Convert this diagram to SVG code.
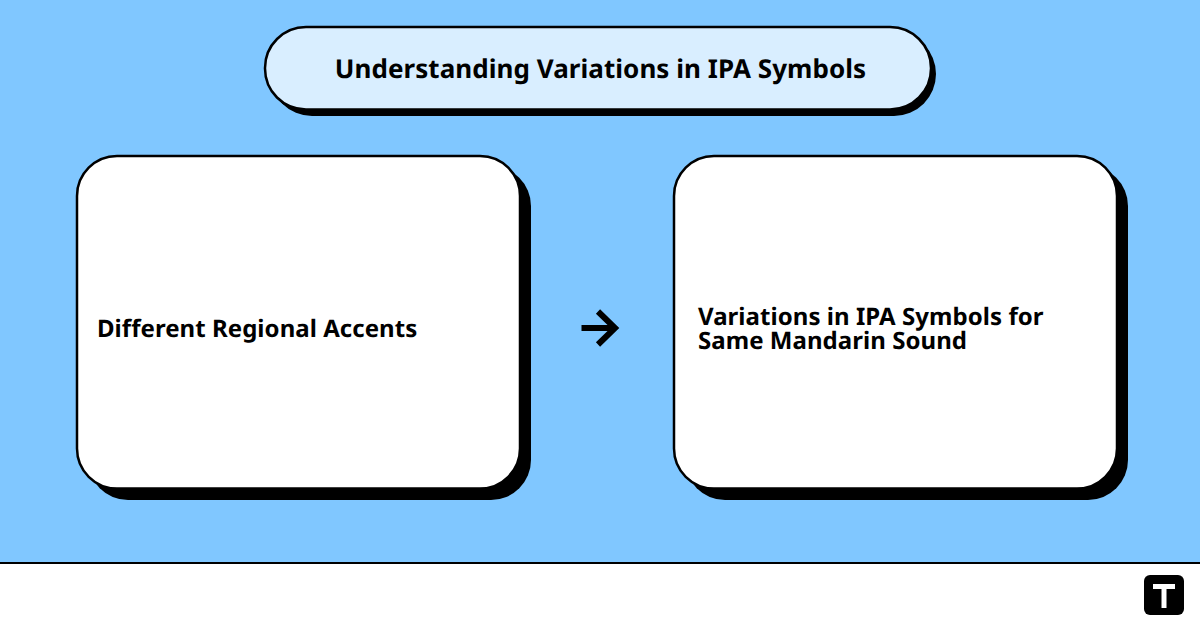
<svg xmlns="http://www.w3.org/2000/svg" width="1200" height="630" viewBox="0 0 1200 630">
<style>
.ol{stroke:#000;stroke-width:2.500}
.sh{fill:#000}
.t{font-family:"Noto Sans",sans-serif;font-weight:700;fill:#000;text-rendering:geometricPrecision;letter-spacing:.05px}
</style>
<rect width="1200" height="630" fill="#80c7ff"/>
<rect y="563" width="1200" height="67" fill="#fff"/>
<rect y="562" width="1200" height="2" fill="#000"/>
<g id="title">
<rect class="sh" x="270" y="32" width="666" height="84" rx="42"/>
<rect class="ol" x="265" y="27" width="666" height="82.500" rx="41" fill="#d9eeff"/>
<text class="t" x="600.500" y="78" font-size="26" text-anchor="middle">Understanding Variations in IPA Symbols</text>
</g>
<g id="node-left">
<rect class="sh" x="88" y="166" width="443" height="334" rx="40"/>
<rect class="ol" x="77" y="156" width="443" height="332.500" rx="40" fill="#fff"/>
<text class="t" x="97" y="337" font-size="24">Different Regional Accents</text>
</g>
<g id="node-right">
<rect class="sh" x="685" y="166" width="443" height="334" rx="40"/>
<rect class="ol" x="674" y="156" width="443" height="332.500" rx="40" fill="#fff"/>
<text class="t" font-size="24"><tspan x="698" y="325">Variations in IPA Symbols for</tspan><tspan x="698" y="349">Same Mandarin Sound</tspan></text>
</g>
<g id="connectors">
<path d="M581.500 328H615M598 311.500L615 328L598 344.500" fill="none" stroke="#000" stroke-width="6"/>
</g>
<g id="logo">
<rect x="1144" y="575" width="40" height="40" rx="6" fill="#000"/>
<path d="M1153 584H1175V589H1166.500V608H1161.500V589H1153Z" fill="#fff"/>
</g>
</svg>
